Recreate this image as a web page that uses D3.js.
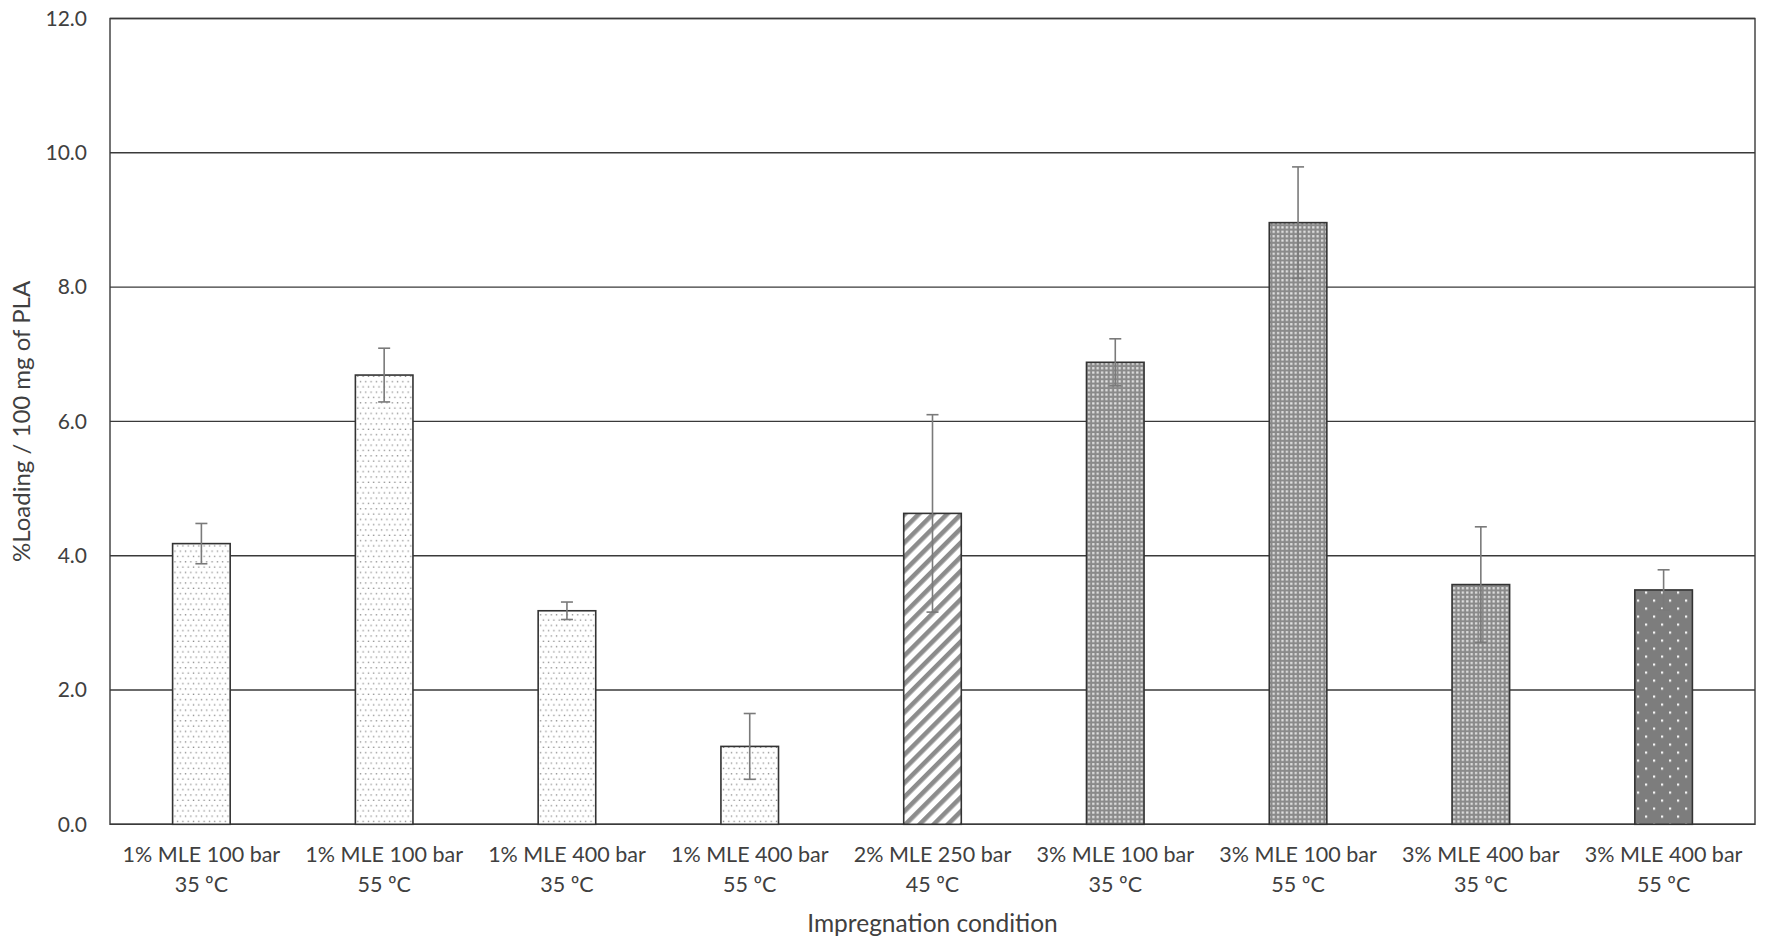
<!DOCTYPE html>
<html>
<head>
<meta charset="utf-8">
<script src="https://cdn.jsdelivr.net/npm/d3@7"></script>
<style>
html,body{margin:0;padding:0;background:#fff;}
svg{display:block;}
text{font-family:Lato,"Open Sans",sans-serif;fill:#404040;}
</style>
</head>
<body>
<svg id="chart" width="1769" height="950"></svg>
<script>
const categories = [
  ["1% MLE 100 bar","35 ºC"],
  ["1% MLE 100 bar","55 ºC"],
  ["1% MLE 400 bar","35 ºC"],
  ["1% MLE 400 bar","55 ºC"],
  ["2% MLE 250 bar","45 ºC"],
  ["3% MLE 100 bar","35 ºC"],
  ["3% MLE 100 bar","55 ºC"],
  ["3% MLE 400 bar","35 ºC"],
  ["3% MLE 400 bar","55 ºC"]
];
const loading = [4.18, 6.69, 3.18, 1.16, 4.63, 6.88, 8.96, 3.57, 3.49];
const errors  = [0.30, 0.40, 0.13, 0.49, 1.47, 0.35, 0.83, 0.86, 0.30];
const patternIds = ["dots","dots","dots","dots","stripes","grid","grid","grid","bigdots"];
const yTicks = [0, 2, 4, 6, 8, 10, 12];
const yTitle = "%Loading / 100 mg of PLA";
const xTitle = "Impregnation condition";

const W = 1769, H = 950;
const margin = {left:110, top:18.5, right:14, bottom:950-824.3};
const svg = d3.select("#chart");
const iw = W - margin.left - margin.right;
const ih = H - margin.top - margin.bottom;

// patterns
const defs = svg.append("defs");
{
  const s = 5.3;
  const p = defs.append("pattern").attr("id","dots").attr("patternUnits","userSpaceOnUse")
    .attr("width", s).attr("height", 2*s);
  p.append("rect").attr("width", s).attr("height", 2*s).attr("fill","#fff");
  p.append("rect").attr("x", s/4-0.6).attr("y", s/2-0.6).attr("width",1.3).attr("height",1.3).attr("fill","#8a8a8a");
  p.append("rect").attr("x", 3*s/4-0.6).attr("y", 3*s/2-0.6).attr("width",1.3).attr("height",1.3).attr("fill","#8a8a8a");
}
{
  const p = defs.append("pattern").attr("id","stripes").attr("patternUnits","userSpaceOnUse")
    .attr("width", 10).attr("height", 10).attr("patternTransform","rotate(45)");
  p.append("rect").attr("width",10).attr("height",10).attr("fill","#fff");
  p.append("rect").attr("width",4.6).attr("height",10).attr("fill","#8c8c8c");
}
{
  const s = 4.4;
  const p = defs.append("pattern").attr("id","grid").attr("patternUnits","userSpaceOnUse")
    .attr("width", s).attr("height", s);
  p.append("rect").attr("width",s).attr("height",s).attr("fill","#8a8a8a");
  p.append("rect").attr("x",1).attr("y",1).attr("width",2.2).attr("height",2.2).attr("fill","#e4e4e4");
}
{
  const p = defs.append("pattern").attr("id","bigdots").attr("patternUnits","userSpaceOnUse")
    .attr("width", 16).attr("height", 16).attr("x", 4).attr("y", 2);
  p.append("rect").attr("width",16).attr("height",16).attr("fill","#7d7d7d");
  p.append("rect").attr("x",3).attr("y",3).attr("width",2.2).attr("height",2.2).attr("fill","#f4f4f4");
  p.append("rect").attr("x",11).attr("y",11).attr("width",2.2).attr("height",2.2).attr("fill","#f4f4f4");
}

const g = svg.append("g").attr("transform", `translate(${margin.left},${margin.top})`);

const x = d3.scaleBand().domain(d3.range(categories.length)).range([0, iw]).paddingInner(0.685).paddingOuter(0.3425);
const y = d3.scaleLinear().domain([0, 12]).range([ih, 0]);

// gridlines
g.append("g").selectAll("line").data(yTicks).join("line")
  .attr("x1",0).attr("x2",iw).attr("y1",d=>y(d)).attr("y2",d=>y(d))
  .attr("stroke","#3a3a3a").attr("stroke-width",1.4);

// border
g.append("rect").attr("x",0).attr("y",0).attr("width",iw).attr("height",ih)
  .attr("fill","none").attr("stroke","#3a3a3a").attr("stroke-width",1.4);

// bars
g.append("g").selectAll("rect").data(loading).join("rect")
  .attr("x",(d,i)=>x(i)).attr("width",x.bandwidth())
  .attr("y",d=>y(d)).attr("height",d=>y(0)-y(d))
  .attr("fill",(d,i)=>`url(#${patternIds[i]})`)
  .attr("stroke","#333").attr("stroke-width",1.6);

// error bars
const eb = g.append("g").attr("stroke","#7a7a7a").attr("stroke-width",1.6);
loading.forEach((v,i)=>{
  const cx = x(i) + x.bandwidth()/2;
  eb.append("line").attr("x1",cx).attr("x2",cx).attr("y1",y(v+errors[i])).attr("y2",y(v-errors[i]));
  eb.append("line").attr("x1",cx-6).attr("x2",cx+6).attr("y1",y(v+errors[i])).attr("y2",y(v+errors[i]));
  eb.append("line").attr("x1",cx-6).attr("x2",cx+6).attr("y1",y(v-errors[i])).attr("y2",y(v-errors[i]));
});

// y axis labels
const yAxis = g.append("g").call(d3.axisLeft(y).tickValues(yTicks).tickFormat(d3.format(".1f")).tickSize(0).tickPadding(23));
yAxis.select(".domain").remove();
yAxis.selectAll("text").style("font-size","21px").style("font-family","Lato, 'Open Sans', sans-serif").attr("fill","#404040");

// x axis labels
const xAxis = g.append("g").attr("transform",`translate(0,${ih})`)
  .call(d3.axisBottom(x).tickSize(0).tickFormat(""));
xAxis.select(".domain").remove();
xAxis.selectAll(".tick").each(function(d){
  const t = d3.select(this).append("text").attr("text-anchor","middle")
    .style("font-size","21.5px").attr("fill","#404040");
  t.append("tspan").attr("x",0).attr("y",38).text(categories[d][0]);
  t.append("tspan").attr("x",0).attr("y",68).text(categories[d][1]);
});

// titles
svg.append("text").attr("x", margin.left + iw/2).attr("y", 932)
  .attr("text-anchor","middle").style("font-size","24.5px").text(xTitle);
svg.append("text").attr("transform",`translate(30,${margin.top+ih/2}) rotate(-90)`)
  .attr("text-anchor","middle").style("font-size","24px").text(yTitle);
</script>
</body>
</html>
